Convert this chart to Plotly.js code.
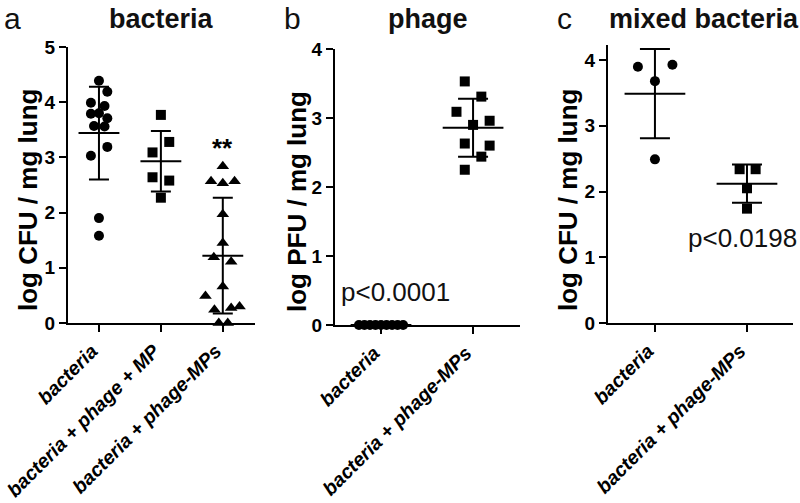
<!DOCTYPE html>
<html>
<head>
<meta charset="utf-8">
<script src="https://cdn.plot.ly/plotly-3.0.1.min.js"></script>
<style>html,body{margin:0;padding:0;background:#fff;}#chart{width:800px;height:503px;}</style>
</head>
<body>
<div id="chart"></div>
<script>
// ---------- Panel a: bacteria (log CFU / mg lung) ----------
const catsA = ['bacteria', 'bacteria + phage + MP', 'bacteria + phage-MPs'];
const aBacteria = [4.39, 4.19, 3.99, 3.93, 3.80, 3.79, 3.71, 3.57, 3.56, 3.19, 3.03, 1.90, 1.58];
const aBacteriaJitter = [0, 0.135, -0.13, 0.09, 0, -0.13, 0.135, -0.08, 0.09, 0.135, -0.13, 0, 0];
const aPhageMP = [3.77, 3.28, 3.09, 2.64, 2.58, 2.27];
const aPhageMPJitter = [0, 0.135, -0.135, -0.135, 0.135, 0];
const aPhageMPs = [2.84, 2.57, 2.53, 2.57, 1.97, 1.45, 1.19, 1.11, 0.66, 0.49, 0.24, 0.27, 0.30, 0, 0];
const aPhageMPsJitter = [0, -0.19, 0, 0.19, 0, 0, -0.145, 0.135, 0, -0.28, -0.135, 0.135, 0.27, -0.065, 0.08];
const aMean = [3.44, 2.93, 1.22];
const aSD = [0.84, 0.55, 1.05];

// ---------- Panel b: phage (log PFU / mg lung) ----------
const catsB = ['bacteria', 'bacteria + phage-MPs'];
const bBacteria = [0, 0, 0, 0, 0, 0, 0, 0, 0];
const bBacteriaJitter = [-0.24, -0.18, -0.12, -0.06, 0, 0.06, 0.12, 0.18, 0.24];
const bPhageMPs = [3.53, 3.31, 3.09, 2.96, 2.90, 2.63, 2.60, 2.44, 2.25];
const bPhageMPsJitter = [-0.09, 0.09, -0.18, 0.18, 0, -0.09, 0.18, 0.09, -0.09];
const bMean = [0, 2.86];
const bSD = [0, 0.42];

// ---------- Panel c: mixed bacteria (log CFU / mg lung) ----------
const catsC = ['bacteria', 'bacteria + phage-MPs'];
const cBacteria = [3.93, 3.90, 3.68, 2.49];
const cBacteriaJitter = [0.19, -0.185, 0, 0];
const cPhageMPs = [2.34, 2.34, 2.05, 1.74];
const cPhageMPsJitter = [-0.08, 0.094, 0, 0];
const cMean = [3.49, 2.12];
const cSD = [0.68, 0.29];

const FONT = 'Liberation Sans, Arial, Helvetica, sans-serif';
const BLACK = '#000';

function pts(vals, jitter, idx, symbol, xa, ya, size) {
  return {
    type: 'scatter', mode: 'markers',
    x: vals.map((v, i) => idx + jitter[i]), y: vals,
    xaxis: xa, yaxis: ya, cliponaxis: false, showlegend: false, hoverinfo: 'y',
    marker: {symbol: symbol, size: size || 10, color: BLACK, line: {width: 0}}
  };
}
function meanLines(means, xa, ya) {
  const x = [], y = [];
  means.forEach((m, i) => { x.push(i - 0.33, i + 0.33, null); y.push(m, m, null); });
  return {type: 'scatter', mode: 'lines', x: x, y: y, xaxis: xa, yaxis: ya, cliponaxis: false,
          showlegend: false, hoverinfo: 'skip', line: {color: BLACK, width: 2}};
}
function sdBars(means, sds, xa, ya, capw) {
  return {type: 'scatter', mode: 'markers', x: means.map((m, i) => i), y: means,
          xaxis: xa, yaxis: ya, cliponaxis: false, showlegend: false, hoverinfo: 'skip',
          marker: {size: 1, color: 'rgba(0,0,0,0)'},
          error_y: {type: 'data', array: sds, visible: true, color: BLACK, thickness: 2, width: capw}};
}

const traces = [
  sdBars(aMean, aSD, 'x', 'y', 10), meanLines(aMean, 'x', 'y'),
  pts(aBacteria, aBacteriaJitter, 0, 'circle', 'x', 'y'),
  pts(aPhageMP, aPhageMPJitter, 1, 'square', 'x', 'y'),
  pts(aPhageMPs, aPhageMPsJitter, 2, 'triangle-up', 'x', 'y', 11),

  sdBars(bMean, bSD, 'x2', 'y2', 15), meanLines(bMean, 'x2', 'y2'),
  pts(bBacteria, bBacteriaJitter, 0, 'circle', 'x2', 'y2'),
  pts(bPhageMPs, bPhageMPsJitter, 1, 'square', 'x2', 'y2'),

  sdBars(cMean, cSD, 'x3', 'y3', 15), meanLines(cMean, 'x3', 'y3'),
  pts(cBacteria, cBacteriaJitter, 0, 'circle', 'x3', 'y3'),
  pts(cPhageMPs, cPhageMPsJitter, 1, 'square', 'x3', 'y3')
];

function xAxis(domain, range, cats, anchor) {
  return {
    domain: domain, range: range, anchor: anchor,
    tickmode: 'array', tickvals: cats.map((c, i) => i), ticktext: cats,
    tickangle: -45, ticks: 'outside', ticklen: 7, tickwidth: 2, tickcolor: BLACK,
    ticklabelshift: -7, ticklabeloverflow: 'allow',
    showline: true, linewidth: 2, linecolor: BLACK, showgrid: false, zeroline: false,
    tickfont: {family: FONT, size: 19.5, color: BLACK, weight: 'bold', style: 'italic'},
    fixedrange: true
  };
}
function yAxis(domain, range, anchor) {
  return {
    domain: domain, range: range, anchor: anchor,
    tickmode: 'linear', tick0: 0, dtick: 1,
    ticks: 'outside', ticklen: 7, tickwidth: 2, tickcolor: BLACK,
    showline: true, linewidth: 2, linecolor: BLACK, showgrid: false, zeroline: false,
    tickfont: {family: FONT, size: 19, color: BLACK, weight: 'bold'},
    fixedrange: true
  };
}

const H = 503;
function panelText(t, xpx, ypx, size, bold, angle) {
  return {text: t, xref: 'paper', yref: 'paper', x: xpx / 800, y: (H - ypx) / H,
          xanchor: 'center', yanchor: 'middle', showarrow: false, textangle: angle || 0,
          font: {family: FONT, size: size, color: angle ? BLACK : '#111', weight: bold ? 'bold' : 'normal'}};
}

const layout = {
  width: 800, height: 503,
  margin: {l: 0, r: 0, t: 0, b: 0},
  paper_bgcolor: '#fff', plot_bgcolor: '#fff',
  showlegend: false,
  xaxis: xAxis([68 / 800, 255 / 800], [-0.5, 2.52], catsA, 'y'),
  yaxis: yAxis([(H - 323) / H, (H - 47) / H], [0, 5], 'x'),
  xaxis2: xAxis([335 / 800, 520 / 800], [-0.5, 1.51], catsB, 'y2'),
  yaxis2: yAxis([(H - 325) / H, (H - 49) / H], [0, 4], 'x2'),
  xaxis3: xAxis([608 / 800, 793 / 800], [-0.51, 1.5], catsC, 'y3'),
  yaxis3: yAxis([(H - 323) / H, (H - 45) / H], [0, 4.23], 'x3'),
  annotations: [
    panelText('a', 12, 18.5, 30, false),
    panelText('b', 292, 18.5, 30, false),
    panelText('c', 564, 18.5, 30, false),
    panelText('bacteria', 161, 19, 27, true),
    panelText('phage', 428, 19, 27, true),
    panelText('mixed bacteria', 704, 19, 27, true),
    panelText('log CFU / mg lung', 28, 200, 26, true, -90),
    panelText('log PFU / mg lung', 297, 202, 26, true, -90),
    panelText('log CFU / mg lung', 568, 200, 26, true, -90),
    {text: '**', xref: 'x', yref: 'y', x: 2, y: 3.17, xanchor: 'center', yanchor: 'middle', showarrow: false,
     font: {family: FONT, size: 26, color: BLACK, weight: 'bold'}},
    {text: 'p&lt;0.0001', xref: 'x2', yref: 'y2', x: 0.16, y: 0.48, xanchor: 'center', yanchor: 'middle', showarrow: false,
     font: {family: FONT, size: 26, color: '#111'}},
    {text: 'p&lt;0.0198', xref: 'x3', yref: 'y3', x: 0.95, y: 1.30, xanchor: 'center', yanchor: 'middle', showarrow: false,
     font: {family: FONT, size: 26, color: '#111'}}
  ]
};

Plotly.newPlot('chart', traces, layout, {displayModeBar: false, staticPlot: true});
</script>
</body>
</html>
